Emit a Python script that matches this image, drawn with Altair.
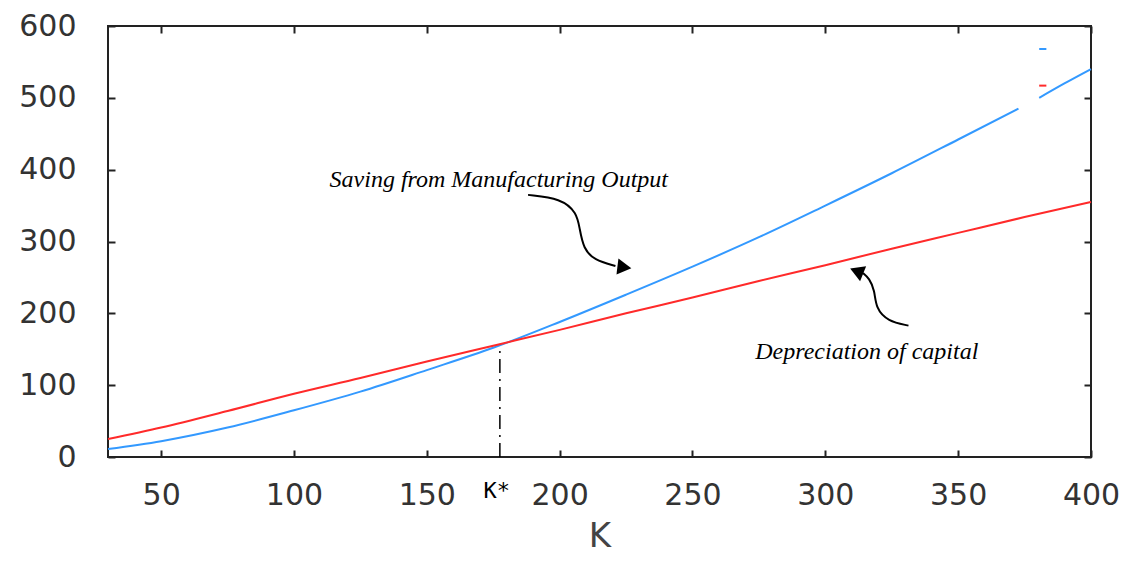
import altair as alt
import pandas as pd

# ---- data ----
k_blue_a = [30, 50, 75, 100, 125, 150, 175, 200, 225, 250, 275, 300, 325, 350, 372.7]
v_blue_a = [11, 22, 41, 65, 91, 121, 152, 188, 226, 265, 306, 350, 395, 442, 485]
k_blue_b = [380.5, 390, 400]
v_blue_b = [500, 520, 540]

k_red = [30, 50, 75, 100, 125, 150, 175, 200, 225, 250, 275, 300, 325, 350, 375, 400]
v_red = [25, 41, 64, 88, 110, 133, 155, 177, 200, 222, 245, 267, 290, 312, 334, 355]

x_ticks = [50, 100, 150, 200, 250, 300, 350, 400]
y_ticks = [0, 100, 200, 300, 400, 500, 600]

k_star = 177.5
k_star_top = 152

ann_labels = ["Saving from Manufacturing Output", "Depreciation of capital"]
ann_k = [177.1, 315.6]
ann_v = [385.8, 146.2]

arrow1_k = [188.1, 200.5, 206.5, 207.5, 209.0, 213.0, 221.0]
arrow1_v = [364.9, 360.0, 340.0, 318.0, 290.0, 274.0, 266.0]
arrow2_k = [331.3, 323.5, 319.0, 318.6, 316.5, 314.2]
arrow2_v = [182.9, 189.0, 207.0, 232.0, 249.0, 256.0]
head_k = [223.5, 312.6]
head_v = [264.5, 257.5]
head_angle = [97, 292]

legend_k1 = [380.5, 380.5]
legend_k2 = [383.2, 383.2]
legend_v = [568, 517]
legend_col = ["#3399ff", "#ff2a2a"]

BLUE = "#3399ff"
RED = "#ff2a2a"
W, H = 983, 431

blue_df = pd.DataFrame({
    "K": k_blue_a + k_blue_b,
    "v": v_blue_a + v_blue_b,
    "seg": [1] * len(k_blue_a) + [2] * len(k_blue_b),
})
red_df = pd.DataFrame({"K": k_red, "v": v_red})
ann_df = pd.DataFrame({"K": ann_k, "v": ann_v, "label": ann_labels})
arrow_df = pd.DataFrame({
    "K": arrow1_k + arrow2_k,
    "v": arrow1_v + arrow2_v,
    "a": [1] * len(arrow1_k) + [2] * len(arrow2_k),
    "o": list(range(len(arrow1_k))) + list(range(len(arrow2_k))),
})
head_df = pd.DataFrame({"K": head_k, "v": head_v, "ang": head_angle})
leg_df = pd.DataFrame({"K": legend_k1, "K2": legend_k2, "v": legend_v, "c": legend_col})
kstar_df = pd.DataFrame({"K": [k_star], "v": [0], "v2": [k_star_top], "t": ["K*"]})

xs = alt.Scale(domain=[30, 400], nice=False, zero=False)
ys = alt.Scale(domain=[0, 600], nice=False, zero=False)

FONT = "DejaVu Sans"
x_lab = alt.Axis(values=x_ticks, orient="bottom", ticks=False, tickSize=0, domain=False,
                 grid=False, labelFont=FONT, labelFontSize=30, labelColor="#333333",
                 labelPadding=23, labelFlush=False, title="K", titleFont=FONT,
                 titleFontSize=34, titleFontWeight="normal", titleColor="#444444",
                 titleBaseline="alphabetic", titleY=89)
y_lab = alt.Axis(values=y_ticks, orient="left", ticks=False, tickSize=0, domain=False,
                 grid=False, labelFont=FONT, labelFontSize=30, labelColor="#333333",
                 labelPadding=32, labelFlush=False, title=None)

def tick_axis(vals, orient, off):
    return alt.Axis(values=vals, orient=orient, offset=off, labels=False, domain=False,
                    grid=False, ticks=True, tickSize=7, tickWidth=2, tickColor="#222222",
                    title=None)

blue = alt.Chart(blue_df).mark_line(color=BLUE, strokeWidth=2, interpolate="monotone").encode(
    x=alt.X("K:Q", scale=xs, axis=x_lab),
    y=alt.Y("v:Q", scale=ys, axis=y_lab),
    detail="seg:N",
)
red = alt.Chart(red_df).mark_line(color=RED, strokeWidth=2, interpolate="monotone").encode(
    x=alt.X("K:Q", scale=xs, axis=tick_axis(x_ticks, "top", -H)),
    y=alt.Y("v:Q", scale=ys, axis=tick_axis(y_ticks, "right", -W)),
)
kline = alt.Chart(kstar_df).mark_rule(color="black", strokeWidth=1.5, strokeDash=[14, 6, 2, 6]).encode(
    x=alt.X("K:Q", scale=xs, axis=tick_axis(x_ticks, "bottom", -H)),
    y=alt.Y("v:Q", scale=ys, axis=tick_axis(y_ticks, "left", -W)),
    y2="v2:Q",
)
ktext = alt.Chart(kstar_df).mark_text(font="DejaVu Sans Mono", fontSize=22, color="black",
                                      baseline="alphabetic", align="center", dx=-3).encode(
    x=alt.X("K:Q", scale=xs, axis=None),
    y=alt.value(H + 41),
    text="t:N",
)
ann = alt.Chart(ann_df).mark_text(font="Liberation Serif", fontStyle="italic", fontSize=24,
                                  color="black", baseline="middle", align="center").encode(
    x=alt.X("K:Q", scale=xs, axis=None),
    y=alt.Y("v:Q", scale=ys, axis=None),
    text="label:N",
)
arrows = alt.Chart(arrow_df).mark_line(color="black", strokeWidth=2, interpolate="basis").encode(
    x=alt.X("K:Q", scale=xs, axis=None),
    y=alt.Y("v:Q", scale=ys, axis=None),
    detail="a:N",
    order="o:Q",
)
heads = alt.Chart(head_df).mark_point(shape="triangle", filled=True, color="black", size=260,
                                      opacity=1).encode(
    x=alt.X("K:Q", scale=xs, axis=None),
    y=alt.Y("v:Q", scale=ys, axis=None),
    angle=alt.Angle("ang:Q", scale=None),
)
legend = alt.Chart(leg_df).mark_rule(strokeWidth=2).encode(
    x=alt.X("K:Q", scale=xs, axis=None),
    x2="K2:Q",
    y=alt.Y("v:Q", scale=ys, axis=None),
    color=alt.Color("c:N", scale=None),
)

chart = alt.layer(blue, red, kline, ktext, ann, arrows, heads, legend).resolve_axis(
    x="independent", y="independent"
).properties(
    width=W, height=H, autosize="none", background="white",
    padding={"left": 100, "top": 18, "right": 32, "bottom": 98},
).configure_view(stroke="#222222", strokeWidth=2)

chart.save("out.html", embed_options={"renderer": "svg", "actions": False})
